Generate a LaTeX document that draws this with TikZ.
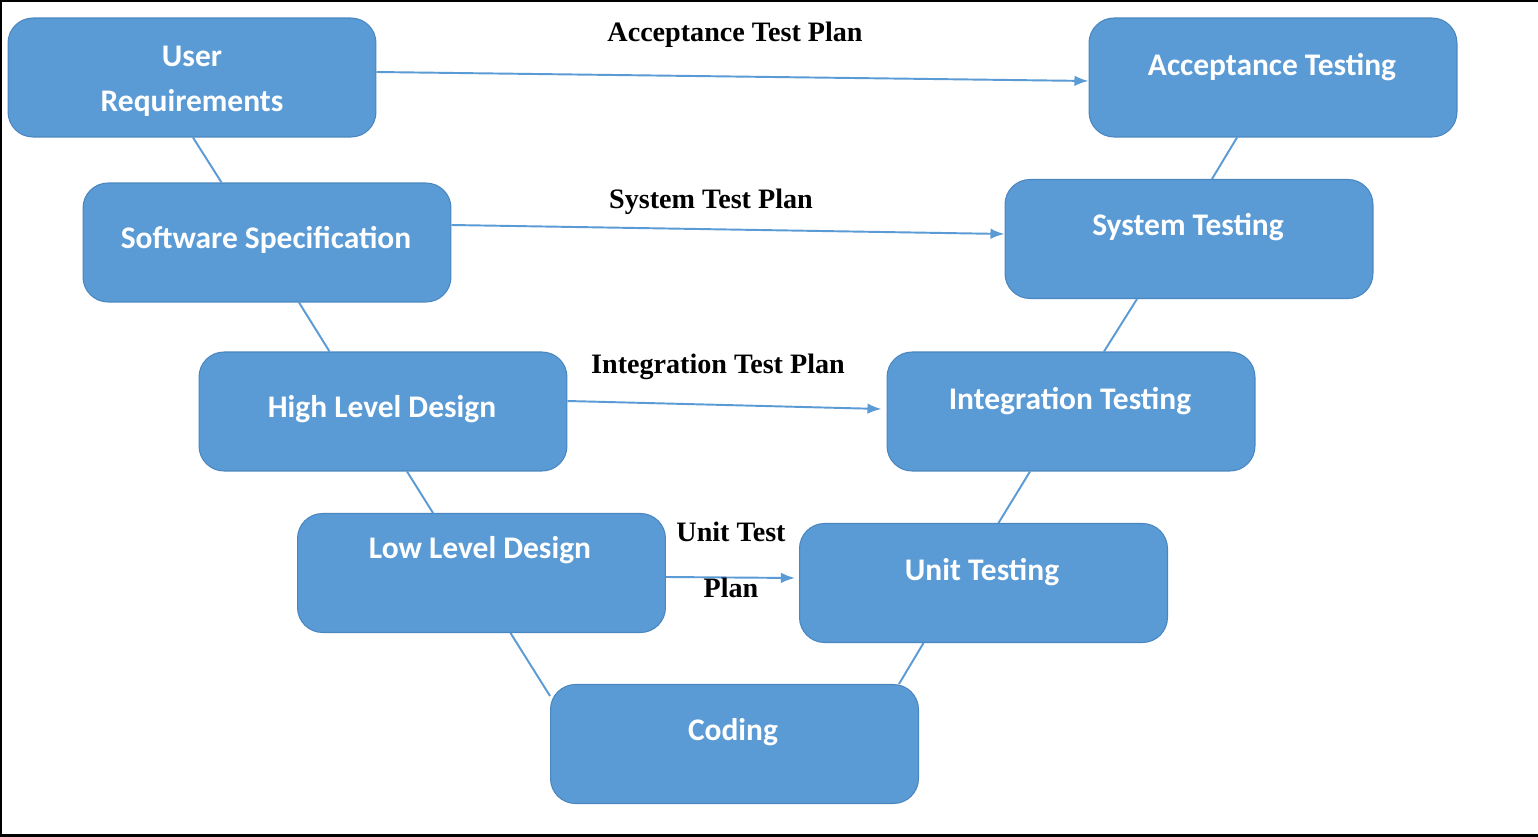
\documentclass[tikz,border=0pt]{standalone}
\usepackage{fontspec}
\setmainfont{Liberation Serif}
\newfontfamily\boxfont{Carlito}
\usepackage{xcolor}
\definecolor{vblue}{HTML}{5B9BD5}
\definecolor{vedge}{HTML}{4A86C0}
\usetikzlibrary{calc, arrows.meta}

\begin{document}
\begin{tikzpicture}[x=0.02cm, y=-0.02cm,
box/.style={draw=vedge, fill=vblue, line width=0.6pt, rounded corners=0.5cm, minimum width=7.36cm, minimum height=2.38cm},
boxtext/.style={text=white, anchor=base, font=\boxfont\bfseries\fontsize{17.9}{21}\selectfont},
plan/.style={anchor=base, font=\bfseries\fontsize{16}{19}\selectfont},
link/.style={vblue, line width=1.1pt},
testarrow/.style={vblue, line width=1.1pt, -{Latex[length=8pt, width=6pt]}}]
\fill[black] (0,0) rectangle (1538,837);
\fill[white] (2,2) rectangle (1538,834);
\useasboundingbox (0,0) rectangle (1538,837);
\foreach \name/\x/\y in {req/192/77.5, spec/267/242.5, hld/383/411.5, lld/481.5/573, cod/734.5/744, unit/983.5/583, intg/1071/411.5, sys/1189/239, acc/1273/77.5}{
\node[box] (\name) at (\x,\y) {};
}
\foreach \name/\x/\y/\txt in {spec/266/249/Software Specification, hld/382/418/High Level Design, lld/480/559/Low Level Design, cod/733/740/Coding, unit/982/581/Unit Testing, intg/1070/410/Integration Testing, sys/1188/236/System Testing, acc/1272/76/Acceptance Testing}{
\node[boxtext] (\name-t) at (\x,\y) {\txt};
}
\node[boxtext] (req-t1) at (192,67) {User};
\node[boxtext] (req-t2) at (192,112) {Requirements};
\draw[link] ($(req.south)+(1,0)$) -- ($(spec.north west)+(139,0)$);
\draw[link] ($(spec.south)+(32,0)$) -- ($(hld.north west)+(131,0)$);
\draw[link] ($(hld.south)+(24,0)$) -- ($(lld.north west)+(136,0)$);
\draw[link] ($(lld.south)+(29,0)$) -- ($(cod.north west)+(0,12)$);
\draw[link] ($(cod.north east)+(-20,0)$) -- ($(unit.south)+(-60,0)$);
\draw[link] ($(unit.north)+(15,0)$) -- ($(intg.south)+(-41,0)$);
\draw[link] ($(intg.north)+(33,0)$) -- ($(sys.south)+(-52,0)$);
\draw[link] ($(sys.north)+(23,0)$) -- ($(acc.south)+(-36,0)$);
\draw[testarrow] ($(req.east)+(0,-5.5)$) -- ($(acc.west)+(0,3.5)$);
\draw[testarrow] ($(spec.east)+(0,-17.5)$) -- ($(sys.west)+(0,-5)$);
\draw[testarrow] ($(hld.east)+(0,-10.5)$) -- ($(intg.west)+(-5,-2.5)$);
\draw[testarrow] ($(lld.east)+(0,4)$) -- ($(unit.west)+(-4,-5)$);
\node[plan] (acc-plan) at (735,42) {Acceptance Test Plan};
\node[plan] (sys-plan) at (711,209) {System Test Plan};
\node[plan] (intg-plan) at (718,374) {Integration Test Plan};
\node[plan] (unit-plan1) at (731,541) {Unit Test};
\node[plan] (unit-plan2) at (731,597) {Plan};
\end{tikzpicture}
\end{document}
